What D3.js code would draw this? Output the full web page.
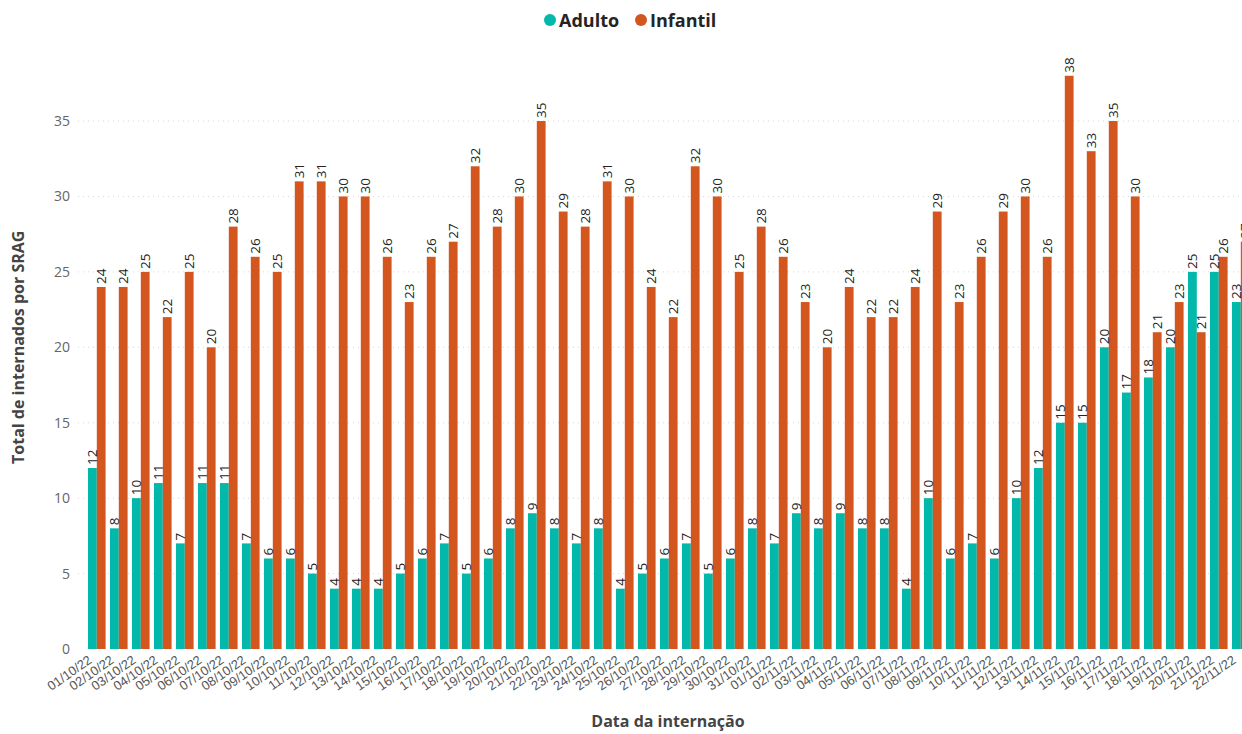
<!DOCTYPE html>
<html>
<head>
<meta charset="utf-8">
<script src="https://cdn.jsdelivr.net/npm/d3@7"></script>
<style>
  html, body { margin: 0; padding: 0; background: #fff; overflow: hidden; }
  svg { display: block; font-family: "Open Sans", "Noto Sans", sans-serif; }
</style>
</head>
<body>
<div id="chart"></div>
<script>
// Daily hospitalisations for SRAG, by age group
const dates = [
  "01/10/22","02/10/22","03/10/22","04/10/22","05/10/22","06/10/22","07/10/22","08/10/22",
  "09/10/22","10/10/22","11/10/22","12/10/22","13/10/22","14/10/22","15/10/22","16/10/22",
  "17/10/22","18/10/22","19/10/22","20/10/22","21/10/22","22/10/22","23/10/22","24/10/22",
  "25/10/22","26/10/22","27/10/22","28/10/22","29/10/22","30/10/22","31/10/22",
  "01/11/22","02/11/22","03/11/22","04/11/22","05/11/22","06/11/22","07/11/22","08/11/22",
  "09/11/22","10/11/22","11/11/22","12/11/22","13/11/22","14/11/22","15/11/22","16/11/22",
  "17/11/22","18/11/22","19/11/22","20/11/22","21/11/22","22/11/22"
];
const adulto = [
  12, 8, 10, 11, 7, 11, 11, 7, 6, 6, 5, 4, 4, 4, 5, 6,
  7, 5, 6, 8, 9, 8, 7, 8, 4, 5, 6, 7, 5, 6, 8,
  7, 9, 8, 9, 8, 8, 4, 10, 6, 7, 6, 10, 12, 15, 15, 20,
  17, 18, 20, 25, 25, 23
];
const infantil = [
  24, 24, 25, 22, 25, 20, 28, 26, 25, 31, 31, 30, 30, 26, 23, 26,
  27, 32, 28, 30, 35, 29, 28, 31, 30, 24, 22, 32, 30, 25, 28,
  26, 23, 20, 24, 22, 22, 24, 29, 23, 26, 29, 30, 26, 38, 33, 35,
  30, 21, 23, 21, 26, 27
];
const seriesNames = ["Adulto", "Infantil"];
const seriesColors = ["#01b8aa", "#d4561f"];
const yTicks = [0, 5, 10, 15, 20, 25, 30, 35];

const rows = dates.map((d, i) => ({ date: d, values: [adulto[i], infantil[i]] }));

const W = 1242, H = 734;
const svg = d3.select("#chart").append("svg").attr("width", W).attr("height", H);

const x = d3.scaleBand().domain(dates).range([85.8, 85.8 + 53 * 22])
  .paddingInner(0.2).paddingOuter(0.1);
const xs = d3.scaleBand().domain(seriesNames).range([0, x.bandwidth()]).padding(0);
const y = d3.scaleLinear().domain([0, 40]).range([649, 45.6]);

// gridlines
svg.append("g").selectAll("line").data(yTicks.filter(t => t > 0)).join("line")
  .attr("x1", 78).attr("x2", W)
  .attr("y1", d => y(d)).attr("y2", d => y(d))
  .attr("stroke", "#d6d6d6").attr("stroke-width", 1)
  .attr("stroke-dasharray", "1,4");

// y axis
const yAxis = svg.append("g").attr("transform", "translate(72,0)")
  .call(d3.axisLeft(y).tickValues(yTicks).tickSize(0).tickPadding(2));
yAxis.select(".domain").remove();
yAxis.selectAll("text").attr("fill", "#666").attr("font-size", 14)
  .attr("font-family", "'Open Sans', sans-serif");

// bars
const groups = svg.append("g").selectAll("g").data(rows).join("g")
  .attr("transform", d => `translate(${x(d.date)},0)`);

groups.selectAll("rect").data(d => d.values.map((v, k) => ({ k, v }))).join("rect")
  .attr("x", d => xs(seriesNames[d.k]))
  .attr("width", xs.bandwidth())
  .attr("y", d => y(d.v))
  .attr("height", d => y(0) - y(d.v))
  .attr("fill", d => seriesColors[d.k]);

// value labels
groups.selectAll("text").data(d => d.values.map((v, k) => ({ k, v }))).join("text")
  .attr("transform", d => `translate(${xs(seriesNames[d.k]) + xs.bandwidth() / 2 + 4.5},${y(d.v) - 3}) rotate(-90)`)
  .attr("text-anchor", "start")
  .attr("font-size", 13.5)
  .attr("fill", "#252423")
  .text(d => d.v);

// x axis tick labels
const xAxis = svg.append("g").attr("transform", `translate(0,${y(0)})`)
  .call(d3.axisBottom(x).tickSize(0).tickPadding(0));
xAxis.select(".domain").remove();
xAxis.selectAll("text")
  .attr("font-size", 13).attr("fill", "#555")
  .attr("text-anchor", "end")
  .attr("dy", 0)
  .attr("transform", "translate(-4,13) rotate(-35)");

// axis titles
svg.append("text")
  .attr("transform", `translate(24,${(y(0) + y(40)) / 2}) rotate(-90)`)
  .attr("text-anchor", "middle")
  .attr("font-size", 16).attr("font-weight", "bold").attr("fill", "#444")
  .text("Total de internados por SRAG");

svg.append("text")
  .attr("x", 668).attr("y", 727)
  .attr("text-anchor", "middle")
  .attr("font-size", 16).attr("font-weight", "bold").attr("fill", "#444")
  .text("Data da internação");

// legend
const legend = svg.append("g").attr("transform", "translate(550,20)");
const legendX = [0, 91];
seriesNames.forEach((name, i) => {
  const g = legend.append("g").attr("transform", `translate(${legendX[i]},0)`);
  g.append("circle").attr("r", 6).attr("fill", seriesColors[i]);
  g.append("text").attr("x", 9).attr("y", 6.5)
    .attr("font-size", 18).attr("font-weight", "bold").attr("fill", "#252423")
    .text(name);
});
</script>
</body>
</html>
